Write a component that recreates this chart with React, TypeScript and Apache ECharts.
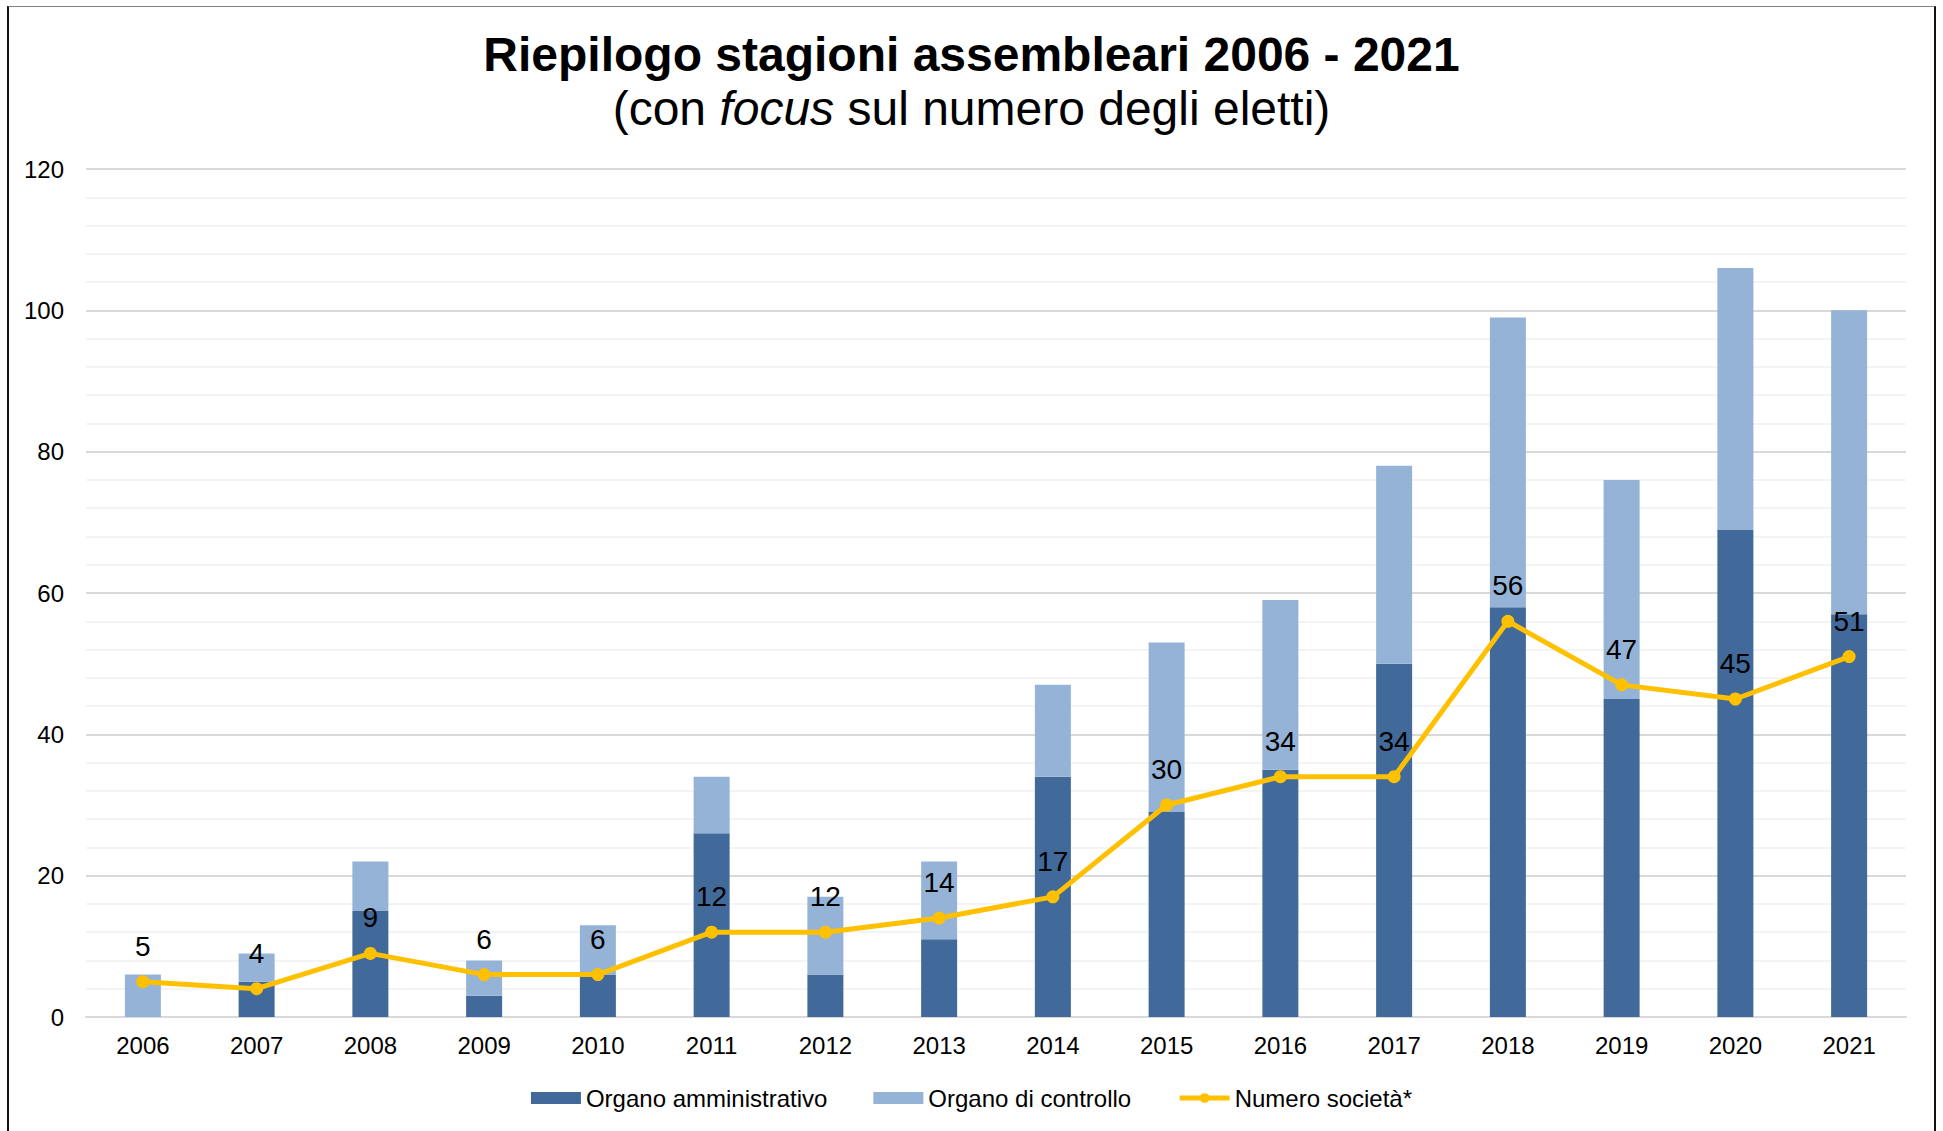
import React, { useEffect, useRef } from "react";
import * as echarts from "echarts";

const years = ["2006","2007","2008","2009","2010","2011","2012","2013","2014","2015","2016","2017","2018","2019","2020","2021"];
const organoAmministrativo = [0, 5, 15, 3, 6, 26, 6, 11, 34, 29, 35, 50, 58, 45, 69, 57];
const organoControllo = [6, 4, 7, 5, 7, 8, 11, 11, 13, 24, 24, 28, 41, 31, 37, 43];
const numeroSocieta = [5, 4, 9, 6, 6, 12, 12, 14, 17, 30, 34, 34, 56, 47, 45, 51];
const yTicks = [0, 20, 40, 60, 80, 100, 120];

const titleText = "Riepilogo stagioni assembleari 2006 - 2021";
const FONT = "'Liberation Sans', Arial, sans-serif";

export default function App() {
  const ref = useRef<HTMLDivElement>(null);
  useEffect(() => {
    if (!ref.current) return;
    const chart = echarts.init(ref.current, null, { renderer: "svg" });
    chart.setOption({
      animation: false,
      backgroundColor: "transparent",
      textStyle: { fontFamily: FONT },
      title: [
        {
          text: titleText,
          left: "center",
          top: 23,
          textStyle: { fontFamily: FONT, fontSize: 48, fontWeight: "bold", color: "#000", lineHeight: 52 },
        },
        {
          text: "{n|(con }{i|focus}{n| sul numero degli eletti)}",
          left: "center",
          top: 77,
          textStyle: {
            fontFamily: FONT,
            fontSize: 48,
            fontWeight: "normal",
            color: "#000",
            rich: {
              n: { fontFamily: FONT, fontSize: 48, fontWeight: "normal", color: "#000", lineHeight: 52 },
              i: { fontFamily: FONT, fontSize: 48, fontWeight: "normal", color: "#000", fontStyle: "italic", lineHeight: 52 },
            },
          },
        },
      ],
      legend: {
        top: 1086,
        left: "center",
        padding: 0,
        itemWidth: 50,
        itemHeight: 12,
        itemGap: 46,
        lineStyle: { width: 5 },
        textStyle: { fontFamily: FONT, fontSize: 24, color: "#000", padding: [0, 0, 0, 0] },
        data: [
          { name: "Organo amministrativo", icon: "rect" },
          { name: "Organo di controllo", icon: "rect" },
          { name: "Numero società*" },
        ],
      },
      grid: { left: 86, right: 37, top: 169, bottom: 114, containLabel: false },
      xAxis: {
        type: "category",
        data: years,
        axisLine: { lineStyle: { color: "#d9d9d9", width: 2 } },
        axisTick: { show: false },
        axisLabel: { fontFamily: FONT, fontSize: 24, color: "#000", margin: 16 },
      },
      yAxis: {
        type: "value",
        min: yTicks[0],
        max: yTicks[yTicks.length - 1],
        interval: 20,
        axisLine: { show: false },
        axisTick: { show: false },
        minorTick: { show: false, splitNumber: 5 },
        axisLabel: { fontFamily: FONT, fontSize: 24, color: "#000", margin: 22 },
        splitLine: { lineStyle: { color: "#d9d9d9", width: 2 } },
        minorSplitLine: { show: true, lineStyle: { color: "#f0f0f0", width: 1.5 } },
      },
      series: [
        {
          name: "Organo amministrativo",
          type: "bar",
          stack: "eletti",
          data: organoAmministrativo,
          barWidth: 36,
          itemStyle: { color: "#416A9B" },
        },
        {
          name: "Organo di controllo",
          type: "bar",
          stack: "eletti",
          data: organoControllo,
          barWidth: 36,
          itemStyle: { color: "#95B3D7" },
        },
        {
          name: "Numero società*",
          type: "line",
          data: numeroSocieta,
          z: 5,
          symbol: "circle",
          symbolSize: 13,
          lineStyle: { color: "#FFC000", width: 5 },
          itemStyle: { color: "#FFC000" },
          label: {
            show: true,
            position: "top",
            distance: 15,
            fontFamily: FONT,
            fontSize: 28,
            color: "#000",
          },
        },
      ],
    });
    return () => chart.dispose();
  }, []);
  return (
    <div>
      <div
        ref={ref}
        style={{ position: "absolute", left: 0, top: 0, width: 1943, height: 1131 }}
      />
      <div
        style={{
          position: "absolute",
          left: 7,
          top: 6,
          width: 1929,
          height: 1125,
          boxSizing: "border-box",
          borderLeft: "2px solid #111",
          borderRight: "2px solid #111",
          borderTop: "1px solid #808080",
          pointerEvents: "none",
        }}
      />
    </div>
  );
}
